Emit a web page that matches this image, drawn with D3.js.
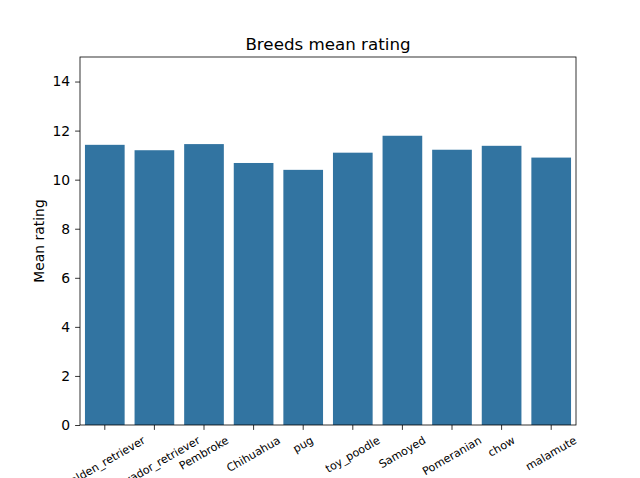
<!DOCTYPE html>
<html>
<head>
<meta charset="utf-8">
<script src="https://cdn.jsdelivr.net/npm/d3@7"></script>
<style>
  body { margin: 0; background: #fff; }
  svg { font-family: "DejaVu Sans", sans-serif; }
</style>
</head>
<body>
<div id="chart"></div>
<script>
// breeds and their mean ratings
const breeds = ['golden_retriever', 'Labrador_retriever', 'Pembroke', 'Chihuahua', 'pug',
  'toy_poodle', 'Samoyed', 'Pomeranian', 'chow', 'malamute'];
const meanRating = [11.42, 11.2, 11.45, 10.68, 10.4, 11.1, 11.79, 11.22, 11.38, 10.9];
const yTicks = [0, 2, 4, 6, 8, 10, 12, 14];

const W = 640, H = 478;
const m = { left: 80, right: 64, top: 57, bottom: 53 };

const svg = d3.select('#chart').append('svg')
  .attr('width', W).attr('height', H);

const x = d3.scaleBand().domain(breeds)
  .range([m.left, W - m.right]).paddingInner(0.2).paddingOuter(0.1);
const y = d3.scaleLinear().domain([0, 15]).range([H - m.bottom, m.top]);

// bars
svg.append('g').selectAll('rect')
  .data(breeds)
  .join('rect')
  .attr('x', d => x(d))
  .attr('width', x.bandwidth())
  .attr('y', (d, i) => y(meanRating[i]))
  .attr('height', (d, i) => y(0) - y(meanRating[i]))
  .attr('fill', '#3274a1');

// y axis
const yAxis = svg.append('g')
  .attr('transform', `translate(${m.left},0)`)
  .call(d3.axisLeft(y).tickValues(yTicks).tickSize(4.9).tickPadding(4.9));
yAxis.select('.domain').remove();
yAxis.selectAll('text').attr('font-size', 13.9).attr('fill', '#000')
  .attr('font-family', '"DejaVu Sans", sans-serif');
yAxis.selectAll('line').attr('stroke', '#000').attr('stroke-width', 0.8);

// x axis
const xAxis = svg.append('g')
  .attr('transform', `translate(0,${H - m.bottom})`)
  .call(d3.axisBottom(x).tickSize(4.9).tickPadding(0));
xAxis.select('.domain').remove();
xAxis.selectAll('line').attr('stroke', '#000').attr('stroke-width', 0.8);
xAxis.selectAll('text')
  .attr('font-size', 11.1).attr('fill', '#000')
  .attr('font-family', '"DejaVu Sans", sans-serif')
  .attr('dy', null).attr('y', null)
  .attr('text-anchor', 'middle')
  .attr('dominant-baseline', 'central')
  .each(function () {
    // centre the rotated label's bounding box under the tick
    const w = this.getComputedTextLength();
    const h = 11.1;
    const a = 30 * Math.PI / 180;
    const bh = w * Math.sin(a) + h * Math.cos(a);
    const cy = 9.7 + bh / 2;
    d3.select(this).attr('transform', `translate(0,${cy}) rotate(-30)`);
  });

// frame
svg.append('rect')
  .attr('x', m.left).attr('y', m.top)
  .attr('width', W - m.left - m.right).attr('height', H - m.top - m.bottom)
  .attr('fill', 'none').attr('stroke', '#000').attr('stroke-width', 0.8);

// title and y label
svg.append('text')
  .attr('x', (m.left + W - m.right) / 2).attr('y', 50)
  .attr('text-anchor', 'middle').attr('font-size', 16.7)
  .text('Breeds mean rating');

svg.append('text')
  .attr('transform', `translate(44,${(m.top + H - m.bottom) / 2}) rotate(-90)`)
  .attr('text-anchor', 'middle').attr('font-size', 13.9)
  .text('Mean rating');
</script>
</body>
</html>
